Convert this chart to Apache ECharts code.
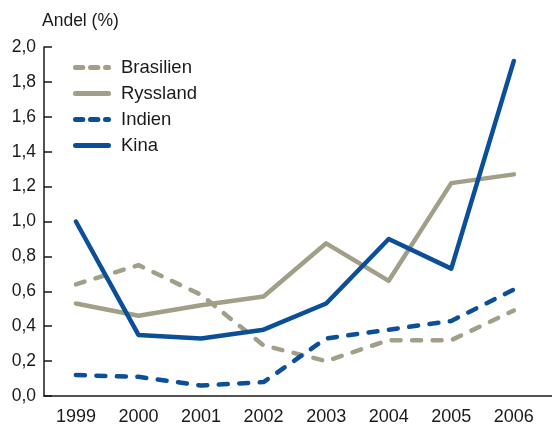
<!DOCTYPE html>
<html><head><meta charset="utf-8">
<script src="https://cdn.jsdelivr.net/npm/echarts@6/dist/echarts.min.js"></script>
<style>html,body{margin:0;padding:0;background:#fff}#c{width:552px;height:426px}</style>
</head><body><div id="c"></div>
<script>
const years = [1999, 2000, 2001, 2002, 2003, 2004, 2005, 2006];
const brasilien = [0.64, 0.75, 0.58, 0.29, 0.20, 0.32, 0.32, 0.49];
const ryssland = [0.53, 0.46, 0.52, 0.57, 0.875, 0.66, 1.22, 1.27];
const indien = [0.12, 0.11, 0.06, 0.08, 0.33, 0.38, 0.43, 0.61];
const kina = [1.00, 0.35, 0.33, 0.38, 0.53, 0.90, 0.73, 1.92];
const yTicks = [0, 0.2, 0.4, 0.6, 0.8, 1.0, 1.2, 1.4, 1.6, 1.8, 2.0];

const TAN = '#a19f87', BLUE = '#0a4f98';
const FONT = 'Liberation Sans, Arial, sans-serif';
const TXT = '#1a1a1a';
const pairs = arr => years.map((y, i) => [y, arr[i]]);
const DASH_ICON = 'path://M2.5,0H9.8A2.5,2.5 0 0 1 9.8,5H2.5A2.5,2.5 0 0 1 2.5,0Z' +
  'M17.5,0H24.9A2.5,2.5 0 0 1 24.9,5H17.5A2.5,2.5 0 0 1 17.5,0Z' +
  'M32.5,0H35.5A2.5,2.5 0 0 1 35.5,5H32.5A2.5,2.5 0 0 1 32.5,0Z';
const SOLID_ICON = 'path://M2.5,0H35.5A2.5,2.5 0 0 1 35.5,5H2.5A2.5,2.5 0 0 1 2.5,0Z';
function series(name, arr, color, dashed) {
  return {
    name, type: 'line', data: pairs(arr), symbol: 'none', silent: true,
    lineStyle: { color, width: 4.5, type: dashed ? [9, 11.5] : 'solid', cap: 'round', join: 'round' },
    itemStyle: { color }
  };
}
const chart = echarts.init(document.getElementById('c'), null, { renderer: 'canvas' });
chart.setOption({
  animation: false,
  textStyle: { fontFamily: FONT },
  title: { text: 'Andel (%)', left: 42, top: 12, padding: 0, textStyle: { fontSize: 17.5, fontWeight: 'normal', color: TXT, fontFamily: FONT } },
  legend: {
    orient: 'vertical', left: 73, top: 58, padding: 0, itemWidth: 38, itemHeight: 5, itemGap: 7,
    textStyle: { fontSize: 18.5, color: TXT, fontFamily: FONT, padding: [0, 0, 0, 5] },
    data: [
      { name: 'Brasilien', icon: DASH_ICON, itemStyle: { color: TAN } },
      { name: 'Ryssland', icon: SOLID_ICON, itemStyle: { color: TAN } },
      { name: 'Indien', icon: DASH_ICON, itemStyle: { color: BLUE } },
      { name: 'Kina', icon: SOLID_ICON, itemStyle: { color: BLUE } }
    ]
  },
  grid: { left: 44, right: 0, top: 47, bottom: 27, containLabel: false },
  xAxis: {
    type: 'value', min: 1998.49, max: 2006.61,
    axisLine: { show: true, lineStyle: { color: TXT, width: 1.5 } },
    axisTick: { show: false }, splitLine: { show: false },
    axisLabel: { customValues: years, formatter: v => String(v), fontSize: 18, color: TXT, margin: 12, fontFamily: FONT }
  },
  yAxis: {
    type: 'value', min: 0, max: 2, interval: 0.2,
    axisLine: { show: true, lineStyle: { color: TXT, width: 1.5 } },
    axisTick: { show: true, inside: true, length: 8, lineStyle: { color: TXT, width: 1.5 }, customValues: yTicks },
    splitLine: { show: false },
    axisLabel: { customValues: yTicks, formatter: v => v.toFixed(1).replace('.', ','), fontSize: 17.5, color: TXT, margin: 8, fontFamily: FONT }
  },
  series: [
    series('Brasilien', brasilien, TAN, true),
    series('Ryssland', ryssland, TAN, false),
    series('Indien', indien, BLUE, true),
    series('Kina', kina, BLUE, false)
  ]
});
</script></body></html>
